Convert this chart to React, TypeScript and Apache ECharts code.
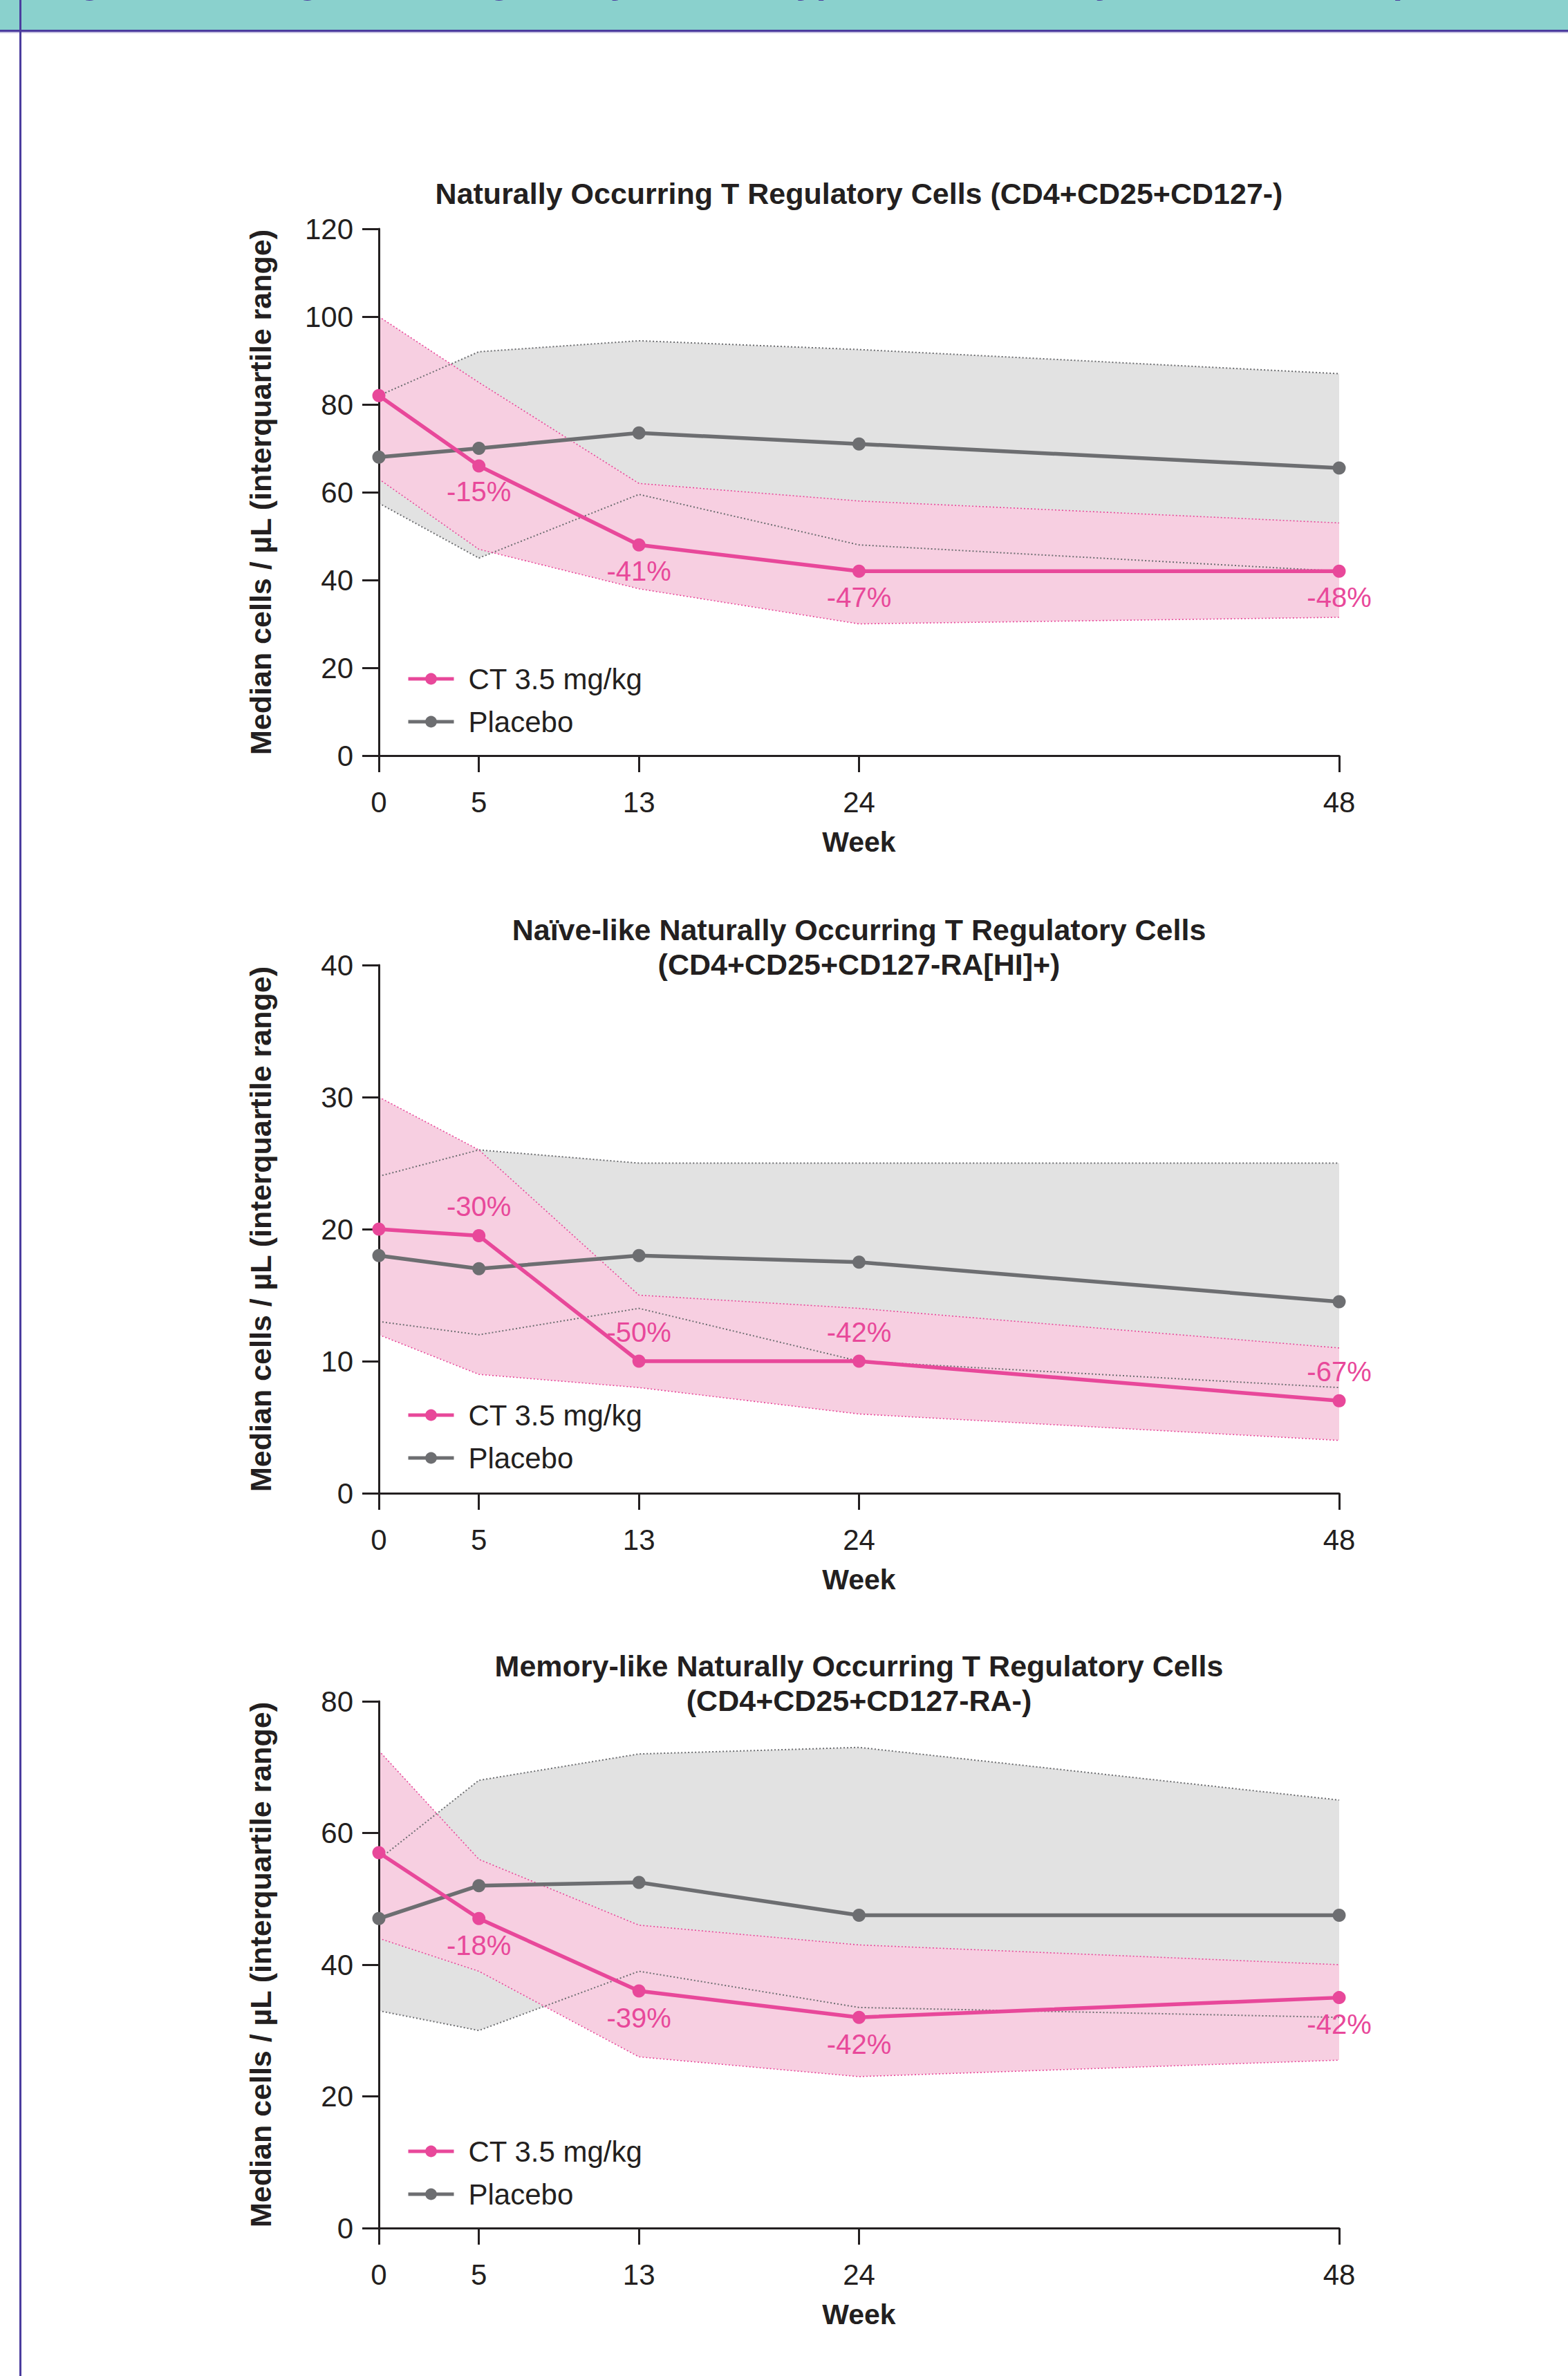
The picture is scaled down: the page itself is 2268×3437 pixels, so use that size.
import React, { useEffect, useRef } from "react";
import * as echarts from "echarts";

// ---------- DATA ----------
const weeks = [0, 5, 13, 24, 48];
const seriesCT = "CT 3.5 mg/kg";
const seriesPlacebo = "Placebo";

const title1 = "Naturally Occurring T Regulatory Cells (CD4+CD25+CD127-)";
const title2 = "Naïve-like Naturally Occurring T Regulatory Cells\n(CD4+CD25+CD127-RA[HI]+)";
const title3 = "Memory-like Naturally Occurring T Regulatory Cells\n(CD4+CD25+CD127-RA-)";
const headerText = "Figure 3. Changes in T Regulatory Cell Subtypes Over Time by Treatment Group in the Study";

// Panel 1
const p1CtMedian = [82, 66, 48, 42, 42];
const p1CtQ1 = [63, 47, 38, 30, 31.5];
const p1CtQ3 = [100, 85, 62, 58, 53];
const p1PlMedian = [68, 70, 73.5, 71, 65.5];
const p1PlQ1 = [57.5, 45, 59.5, 48, 42];
const p1PlQ3 = [82, 92, 94.5, 92.5, 87];
const p1Labels = ["", "-15%", "-41%", "-47%", "-48%"];

// Panel 2
const p2CtMedian = [20, 19.5, 10, 10, 7];
const p2CtQ1 = [12, 9, 8, 6, 4];
const p2CtQ3 = [30, 26, 15, 14, 11];
const p2PlMedian = [18, 17, 18, 17.5, 14.5];
const p2PlQ1 = [13, 12, 14, 10, 8];
const p2PlQ3 = [24, 26, 25, 25, 25];
const p2Labels = ["", "-30%", "-50%", "-42%", "-67%"];

// Panel 3
const p3CtMedian = [57, 47, 36, 32, 35];
const p3CtQ1 = [44, 39, 26, 23, 25.5];
const p3CtQ3 = [72.5, 56, 46, 43, 40];
const p3PlMedian = [47, 52, 52.5, 47.5, 47.5];
const p3PlQ1 = [33, 30, 39, 33.5, 32];
const p3PlQ3 = [56, 68, 72, 73, 65];
const p3Labels = ["", "-18%", "-39%", "-42%", "-42%"];

const yMaxes = [120, 40, 80];
const yIntervals = [20, 10, 20];
const yAxisName = "Median cells / µL (interquartile range)";
const xAxisName = "Week";

// ---------- STYLE ----------
const FONT = "'Liberation Sans', Arial, Helvetica, sans-serif";
const INK = "#231f20";
const PINK = "#e8489a";
const PINK_BAND = "#f7cfe1";
const GREY = "#6d6e71";
const GREY_BAND = "#e2e2e2";
const TEAL = "#8ad1cd";
const PURPLE = "#4b3c9e";

const GRID_LEFT = 548;
const GRID_RIGHT = 2268 - 1937;
const gridTops = [331, 1396, 2461];
const gridHeights = [762, 764, 762];
const titleTops = [255, 1320, 2385];
const labelPositions = ["bottom", "top", "bottom"];
const labelDistances = [8, 13, 9];

function bandRenderer(fill: string) {
  return (params: any, api: any) => {
    if (params.dataIndex !== 0) return null;
    const n = params.dataInsideLength || weeks.length;
    const upper: number[][] = [];
    const lower: number[][] = [];
    for (let k = 0; k < n; k++) {
      upper.push(api.coord([api.value(0, k), api.value(2, k)]));
      lower.push(api.coord([api.value(0, k), api.value(1, k)]));
    }
    return {
      type: "polygon",
      shape: { points: upper.concat(lower.reverse()) },
      style: { fill },
    };
  };
}

function buildOption() {
  const panels = [
    { ct: p1CtMedian, ctQ1: p1CtQ1, ctQ3: p1CtQ3, pl: p1PlMedian, plQ1: p1PlQ1, plQ3: p1PlQ3, labels: p1Labels, title: title1 },
    { ct: p2CtMedian, ctQ1: p2CtQ1, ctQ3: p2CtQ3, pl: p2PlMedian, plQ1: p2PlQ1, plQ3: p2PlQ3, labels: p2Labels, title: title2 },
    { ct: p3CtMedian, ctQ1: p3CtQ1, ctQ3: p3CtQ3, pl: p3PlMedian, plQ1: p3PlQ1, plQ3: p3PlQ3, labels: p3Labels, title: title3 },
  ];

  const grid: any[] = [];
  const xAxis: any[] = [];
  const yAxis: any[] = [];
  const series: any[] = [];
  const legend: any[] = [];
  const title: any[] = [];

  const pairs = (vals: number[]) => weeks.map((w, k) => [w, vals[k]]);

  panels.forEach((p, i) => {
    grid.push({ left: GRID_LEFT, right: GRID_RIGHT, top: gridTops[i], height: gridHeights[i], containLabel: false });
    title.push({
      text: p.title,
      left: GRID_LEFT + (2268 - GRID_LEFT - GRID_RIGHT) / 2,
      top: titleTops[i],
      textAlign: "center",
      padding: 0,
      textStyle: { fontFamily: FONT, fontSize: 43, fontWeight: "bold", color: INK, lineHeight: 50 },
    });
    xAxis.push({
      gridIndex: i,
      type: "value",
      min: 0,
      max: 48,
      z: 4,
      name: xAxisName,
      nameLocation: "middle",
      nameGap: 104,
      nameTextStyle: { fontFamily: FONT, fontSize: 41, fontWeight: "bold", color: INK },
      axisLine: { show: true, onZero: false, lineStyle: { color: INK, width: 3 } },
      axisTick: { show: true, length: 24, lineStyle: { color: INK, width: 3 }, customValues: weeks },
      axisLabel: { show: true, customValues: weeks, margin: 46, fontFamily: FONT, fontSize: 42, color: INK },
      splitLine: { show: false },
    });
    yAxis.push({
      gridIndex: i,
      type: "value",
      min: 0,
      max: yMaxes[i],
      interval: yIntervals[i],
      z: 4,
      name: yAxisName,
      nameLocation: "middle",
      nameGap: 150,
      nameTextStyle: { fontFamily: FONT, fontSize: 43, fontWeight: "bold", color: INK },
      axisLine: { show: true, lineStyle: { color: INK, width: 3 } },
      axisTick: { show: true, length: 24, lineStyle: { color: INK, width: 3 } },
      axisLabel: { margin: 37, fontFamily: FONT, fontSize: 42, color: INK },
      splitLine: { show: false },
    });
    legend.push({
      left: 583,
      top: gridTops[i] + 651 - 26,
      orient: "vertical",
      data: [seriesCT, seriesPlacebo],
      itemWidth: 66,
      itemHeight: 21,
      itemGap: 20,
      selectedMode: false,
      lineStyle: { width: 5 },
      textStyle: { fontFamily: FONT, fontSize: 42, color: INK, padding: [0, 0, 0, 16] },
    });

    series.push({
      type: "custom",
      name: "Placebo IQR",
      xAxisIndex: i,
      yAxisIndex: i,
      z: 1,
      silent: true,
      encode: { x: 0, y: [1, 2] },
      data: weeks.map((w, k) => [w, p.plQ1[k], p.plQ3[k]]),
      renderItem: bandRenderer(GREY_BAND),
    });
    series.push({
      type: "custom",
      name: "CT IQR",
      xAxisIndex: i,
      yAxisIndex: i,
      z: 2,
      silent: true,
      encode: { x: 0, y: [1, 2] },
      data: weeks.map((w, k) => [w, p.ctQ1[k], p.ctQ3[k]]),
      renderItem: bandRenderer(PINK_BAND),
    });
    const dotted = (name: string, vals: number[], color: string, width: number) => ({
      type: "line",
      name,
      xAxisIndex: i,
      yAxisIndex: i,
      z: 3,
      silent: true,
      symbol: "none",
      data: pairs(vals),
      lineStyle: { color, width, type: [2, 3] },
    });
    series.push(dotted("Placebo Q3", p.plQ3, GREY, 2));
    series.push(dotted("Placebo Q1", p.plQ1, GREY, 2));
    series.push(dotted("CT Q3", p.ctQ3, PINK, 1.6));
    series.push(dotted("CT Q1", p.ctQ1, PINK, 1.6));

    series.push({
      type: "line",
      name: seriesPlacebo,
      xAxisIndex: i,
      yAxisIndex: i,
      z: 5,
      data: pairs(p.pl),
      symbol: "circle",
      symbolSize: 19,
      color: GREY,
      lineStyle: { color: GREY, width: 5.5 },
      itemStyle: { color: GREY },
    });
    const labels = p.labels;
    series.push({
      type: "line",
      name: seriesCT,
      xAxisIndex: i,
      yAxisIndex: i,
      z: 6,
      data: pairs(p.ct),
      symbol: "circle",
      symbolSize: 19,
      color: PINK,
      lineStyle: { color: PINK, width: 5.5 },
      itemStyle: { color: PINK },
      label: {
        show: true,
        position: labelPositions[i],
        distance: labelDistances[i],
        formatter: (prm: any) => labels[prm.dataIndex],
        fontFamily: FONT,
        fontSize: 40,
        color: PINK,
      },
    });
  });

  const graphic = [
    { type: "rect", left: 0, top: 0, shape: { width: 2268, height: 43 }, style: { fill: TEAL }, z: 0 },
    {
      type: "text",
      x: 68,
      y: -28,
      style: { text: headerText, fontFamily: FONT, fontSize: 52, fontWeight: "bold", fill: PURPLE, verticalAlign: "middle" },
      z: 1,
    },
    { type: "rect", left: 0, top: 43, shape: { width: 2268, height: 3 }, style: { fill: PURPLE }, z: 2 },
    { type: "rect", left: 0, top: 46, shape: { width: 2268, height: 2 }, style: { fill: "#c6c1e2" }, z: 2 },
    { type: "rect", left: 28, top: 0, shape: { width: 3, height: 3437 }, style: { fill: PURPLE }, z: 3 },
  ];

  return {
    animation: false,
    backgroundColor: "#ffffff",
    title,
    grid,
    xAxis,
    yAxis,
    legend,
    series,
    graphic,
  };
}

export default function App() {
  const ref = useRef<HTMLDivElement>(null);
  useEffect(() => {
    if (!ref.current) return;
    const chart = echarts.init(ref.current, undefined, { renderer: "svg" });
    chart.setOption(buildOption() as any);
    return () => chart.dispose();
  }, []);
  return (
    <div
      ref={ref}
      style={{ position: "absolute", left: 0, top: 0, width: 2268, height: 3437 }}
    />
  );
}
